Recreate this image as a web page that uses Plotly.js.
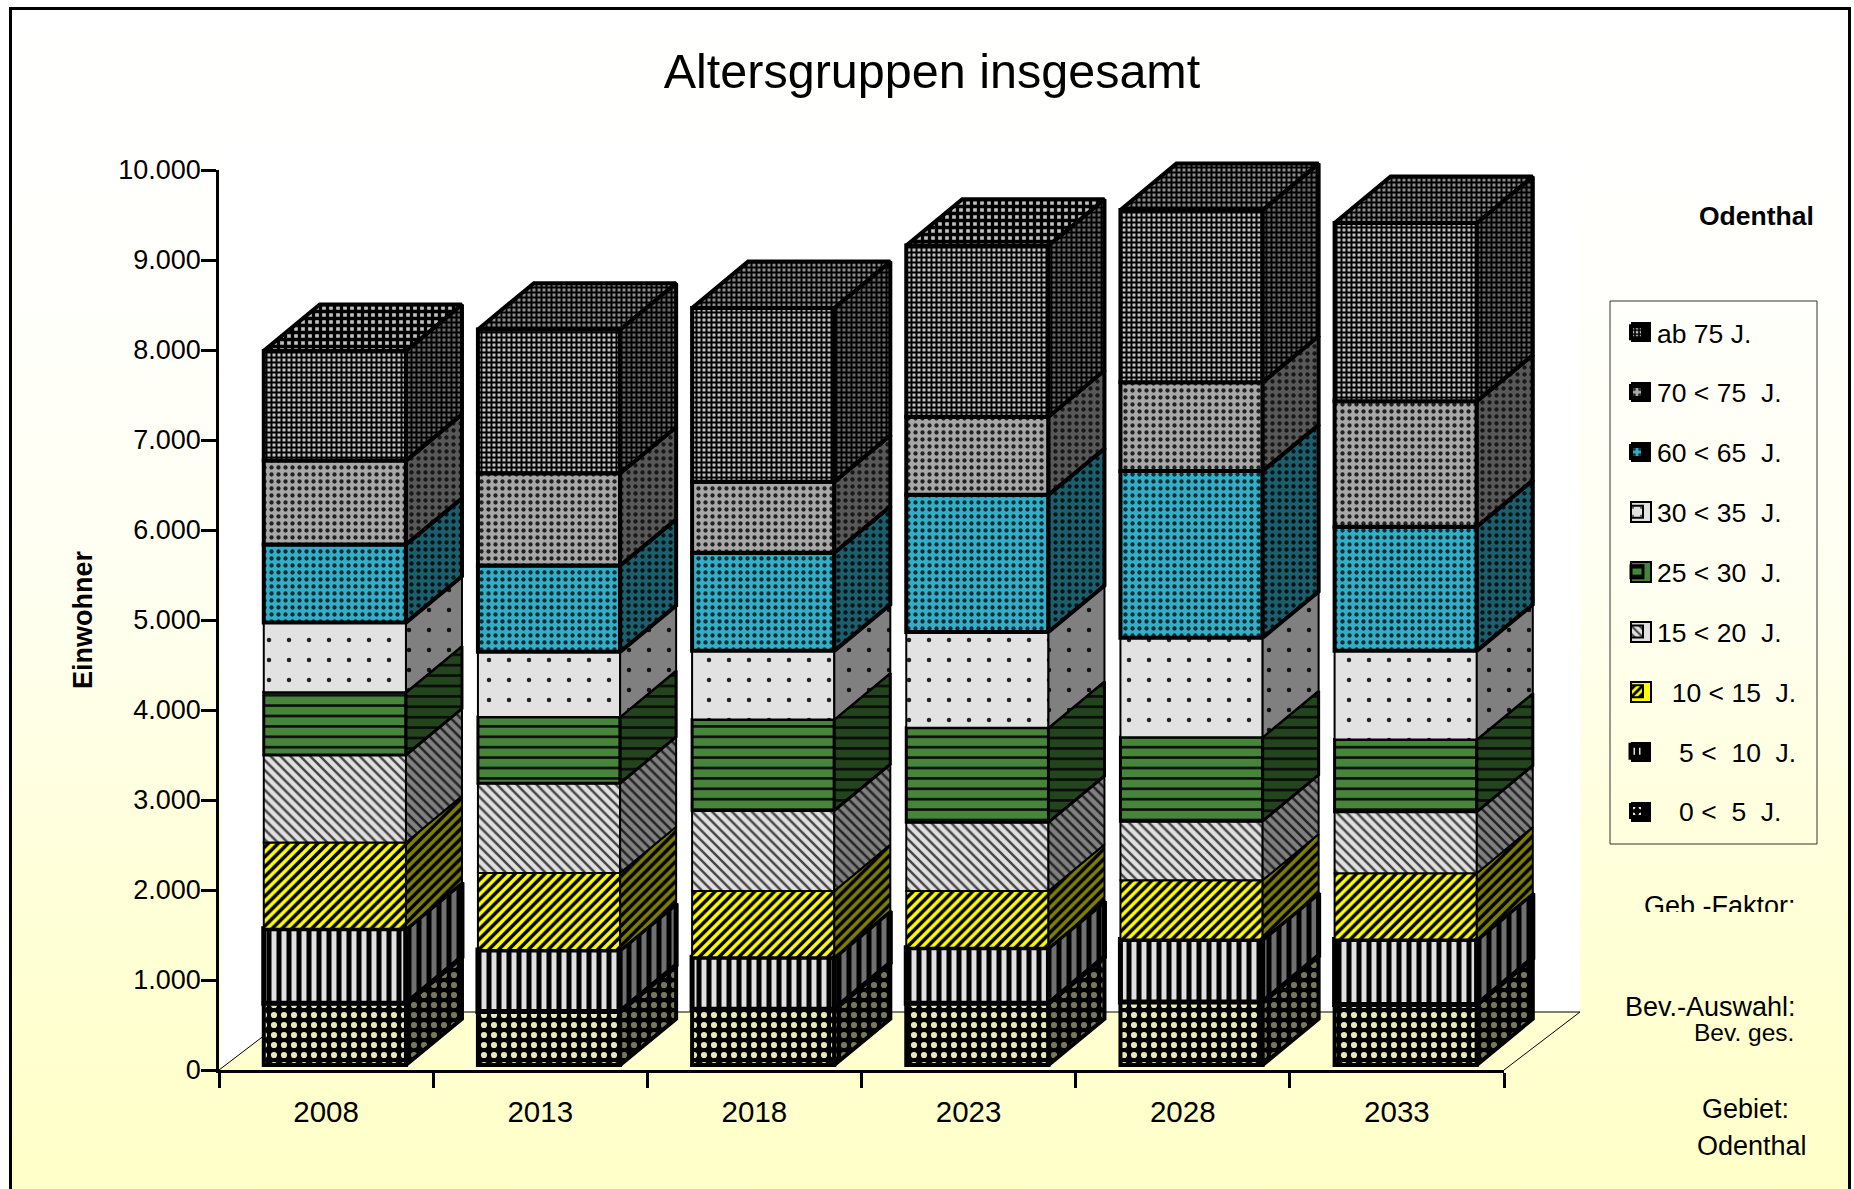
<!DOCTYPE html>
<html><head><meta charset="utf-8">
<script src="https://cdn.plot.ly/plotly-3.0.1.min.js"></script>
<style>
html,body{margin:0;padding:0;background:#fff;width:1854px;height:1189px;overflow:hidden}
#frame{position:absolute;left:9px;top:7px;width:1842px;height:1182px;border:3px solid #000;border-bottom:none;box-sizing:border-box;
background:linear-gradient(to bottom,#ffffff 0%,#fffffb 25%,#fffff0 50%,#ffffd8 75%,#ffffc8 100%)}
#chart{position:absolute;left:0;top:0;width:1854px;height:1189px}
</style></head><body>
<div id="frame"></div><div id="chart"></div>
<script>
const years = ['2008','2013','2018','2023','2028','2033'];
const age0to5   = [686,596,620,686,700,672];
const age5to10  = [828,683,578,618,696,723];
const age10to15 = [959,854,736,631,657,736];
const age15to20 = [972,999,894,762,657,683];
const age25to30 = [696,736,1012,1051,933,802];
const age30to35 = [775,723,762,1064,1104,986];
const age60to65 = [867,959,1091,1524,1853,1380];
const age70to75 = [933,1025,789,867,986,1393];
const age75plus = [1219,1598,1930,1902,1915,1982];
const seriesNames = ['\u00A0\u00A0\u00A00 <\u00A0\u00A05\u00A0\u00A0J.','\u00A0\u00A0\u00A05 <\u00A0\u00A010\u00A0\u00A0J.','\u00A0\u00A010 < 15\u00A0\u00A0J.','15 < 20\u00A0\u00A0J.','25 < 30\u00A0\u00A0J.','30 < 35\u00A0\u00A0J.','60 < 65\u00A0\u00A0J.','70 < 75\u00A0\u00A0J.','ab 75 J.'];
const seriesValues = [age0to5,age5to10,age10to15,age15to20,age25to30,age30to35,age60to65,age70to75,age75plus];
const frontStyles = [
 {shape:'.',bg:'#000000',fg:'#E8E8B8',size:10,sol:.3,lw:4},
 {shape:'|',bg:'#000000',fg:'#E0E0E0',size:10,sol:.5,lw:5},
 {shape:'/',bg:'#FFFF00',fg:'#000000',size:7,sol:.5,lw:2},
 {shape:'\\',bg:'#E0E0E0',fg:'#444444',size:7,sol:.35,lw:2},
 {shape:'-',bg:'#46853A',fg:'#0C0C0C',size:10.4,sol:.25,lw:3},
 {shape:'.',bg:'#E2E2E2',fg:'#222222',size:20,sol:.04,lw:2},
 {shape:'.',bg:'#33AEC6',fg:'#102C34',size:7,sol:.3,lw:4},
 {shape:'.',bg:'#A8A8A8',fg:'#222222',size:7,sol:.3,lw:4},
 {shape:'+',bg:'#C0C0C0',fg:'#000000',size:5,sol:.64,lw:4}
];
const sideColors = [
 {bg:'#000000',fg:'#78785C'},{bg:'#000000',fg:'#707070'},{bg:'#808000',fg:'#000000'},{bg:'#808080',fg:'#222222'},
 {bg:'#23451D',fg:'#0A0A0A'},{bg:'#808080',fg:'#111111'},{bg:'#1C5E6C',fg:'#061418'},{bg:'#585858',fg:'#181818'},{bg:'#686868',fg:'#000000'}
];
const sparseTop = [true,false,false,true,false,false];
const barLeft=-0.291, barWidth=0.664, depthX=0.2615, depthY=515, baseLift=55;

const W=1854,H=1189,L=219,R=1600,T=140,B=1070,AX=1504,AY=170;
const px=x=>(x-L)/(R-L), py=y=>(B-y)/(B-T);
const unitX=(AX-L)/6, unitY=(B-AY)/10000;

const traces=[];const xs=years.map((_,i)=>i);
let cum=years.map(()=>baseLift);
seriesValues.forEach((vals,j)=>{
 const s=frontStyles[j],base=cum.slice();
 traces.push({type:'bar',xaxis:'x',yaxis:'y',x:xs,y:vals,base:base,width:barWidth,offset:barLeft,name:seriesNames[j],legendgroup:'g'+j,legendrank:100-j,
  marker:{color:s.bg,line:{color:'#000',width:s.lw},pattern:{shape:s.shape,bgcolor:s.bg,fgcolor:s.fg,size:s.size,solidity:s.sol,fillmode:'replace'}},
  hovertemplate:'%{y}<extra>'+seriesNames[j]+'</extra>'});
 const sx=[],sy=[];
 vals.forEach((v,i)=>{const x1=i+barLeft+barWidth,b=base[i],t=b+v;
  sx.push(x1,x1+depthX,x1+depthX,x1,x1,null);sy.push(b,b+depthY,t+depthY,t,b,null);});
 const c=sideColors[j];
 traces.push({type:'scatter',xaxis:'x2',yaxis:'y2',mode:'lines',x:sx,y:sy,fill:'toself',showlegend:false,hoverinfo:'skip',
  line:{color:'#000',width:s.lw},fillcolor:c.bg,
  fillpattern:{shape:s.shape,bgcolor:c.bg,fgcolor:c.fg,size:s.size,solidity:s.sol,fillmode:'replace'}});
 cum=cum.map((b,i)=>b+vals[i]);
});
[[true,{shape:'+',bgcolor:'#C0C0C0',fgcolor:'#000',size:7,solidity:.72}],[false,{shape:'+',bgcolor:'#8C8C8C',fgcolor:'#000',size:5,solidity:.64}]].forEach(([flag,pat])=>{
 const tx=[],ty=[];
 years.forEach((_,i)=>{if(sparseTop[i]!==flag)return;const x0=i+barLeft,x1=x0+barWidth,t=cum[i];
  tx.push(x0,x1,x1+depthX,x0+depthX,x0,null);ty.push(t,t,t+depthY,t+depthY,t,null);});
 traces.push({type:'scatter',xaxis:'x2',yaxis:'y2',mode:'lines',x:tx,y:ty,fill:'toself',showlegend:false,hoverinfo:'skip',
  line:{color:'#000',width:4},fillcolor:'#000',fillpattern:Object.assign({fillmode:'replace'},pat)});
});

const ann=(text,x,y,size,o)=>Object.assign({text:text,xref:'paper',yref:'paper',x:px(x),y:py(y),showarrow:false,xanchor:'right',yanchor:'middle',
 font:{size:size,color:'#000',family:'Liberation Sans, Arial, sans-serif'}},o||{});

// square backing behind each legend swatch, one per row of the legend
const swatchBacks=frontStyles.map((s,j)=>{const cy=332+60*(8-j),dark=s.lw>=4;
 return {type:'rect',xref:'paper',yref:'paper',layer:'below',x0:px(1631),x1:px(1651),y0:py(cy-10),y1:py(cy+10),
  line:{color:'#000',width:dark?0:2},fillcolor:dark?'#000':s.bg};});

const layout={
 width:W,height:H,autosize:false,paper_bgcolor:'rgba(0,0,0,0)',plot_bgcolor:'rgba(0,0,0,0)',
 margin:{l:L,r:W-R,t:T,b:H-B,pad:0},barmode:'overlay',
 font:{family:'Liberation Sans, Arial, sans-serif',color:'#000',size:27},
 title:{text:'Altersgruppen insgesamt',font:{size:48.5,color:'#000'},x:932/W,xanchor:'center',xref:'container',y:1-71/H,yanchor:'middle'},
 xaxis:{type:'linear',domain:[0,px(AX)],anchor:'y',range:[-0.5,5.5],tickmode:'array',tickvals:xs,ticktext:years,ticks:'',showgrid:false,zeroline:false,
  showline:true,linecolor:'#000',linewidth:2.5,tickfont:{size:29.5},ticklabelstandoff:14,
  minor:{tickmode:'array',tickvals:[-0.5,0.5,1.5,2.5,3.5,4.5,5.5],ticks:'outside',ticklen:15,tickwidth:2.5,tickcolor:'#000',showgrid:false}},
 yaxis:{domain:[0,py(AY)],anchor:'x',range:[0,10000],tickmode:'array',tickvals:[0,1000,2000,3000,4000,5000,6000,7000,8000,9000,10000],
  ticktext:['0','1.000','2.000','3.000','4.000','5.000','6.000','7.000','8.000','9.000','10.000'],
  ticks:'outside',ticklen:15,tickwidth:2.5,tickcolor:'#000',showgrid:false,zeroline:false,showline:true,linecolor:'#000',linewidth:2.5,tickfont:{size:27},ticklabelstandoff:-5,
  title:{text:'<b>Einwohner</b>',font:{size:27},standoff:18}},
 xaxis2:{domain:[0,1],anchor:'y2',range:[-0.5,-0.5+(R-L)/unitX],visible:false,fixedrange:true},
 yaxis2:{domain:[0,1],anchor:'x2',range:[0,(B-T)/unitY],visible:false,fixedrange:true},
 legend:{x:px(1617),y:py(308.5),xanchor:'left',yanchor:'top',bgcolor:'rgba(0,0,0,0)',borderwidth:0,traceorder:'grouped',tracegroupgap:22.4,
  font:{size:26.5,color:'#000'},itemwidth:30,itemclick:false,itemdoubleclick:false},
 shapes:[
  {type:'path',xref:'paper',yref:'paper',layer:'below',line:{width:0},fillcolor:'#fff',
   path:`M${px(221)},${py(1068)} L${px(296)},${py(1012)} L${px(1580)},${py(1012)} L${px(1580)},${py(146)} L${px(221)},${py(146)} Z`},
  {type:'line',xref:'paper',yref:'paper',layer:'below',x0:px(219),y0:py(1070),x1:px(295),y1:py(1012),line:{color:'#000',width:1}},
  {type:'line',xref:'paper',yref:'paper',layer:'below',x0:px(295),y0:py(1012),x1:px(1580),y1:py(1012),line:{color:'#000',width:1}},
  {type:'line',xref:'paper',yref:'paper',layer:'below',x0:px(1504),y0:py(1070),x1:px(1580),y1:py(1012),line:{color:'#000',width:1}},
  {type:'rect',xref:'paper',yref:'paper',layer:'below',x0:px(1610),y0:py(301),x1:px(1817),y1:py(844),line:{color:'#333',width:1},fillcolor:'rgba(0,0,0,0)'}
 ].concat(swatchBacks),
 annotations:[
  ann('<b>Odenthal</b>',1816,216,26.5),
  ann('Geb.-Faktor:',1798,889,27,{yanchor:'top',height:21,valign:'top'}),
  ann('Bev.-Auswahl:',1798,1007,27),
  ann('Bev. ges.',1796,1032,24.5),
  ann('Gebiet:',1746,1109,27,{xanchor:'center'}),
  ann('Odenthal',1752,1146,27,{xanchor:'center'})
 ]
};
Plotly.newPlot('chart',traces,layout,{displayModeBar:false,responsive:false});
</script></body></html>
